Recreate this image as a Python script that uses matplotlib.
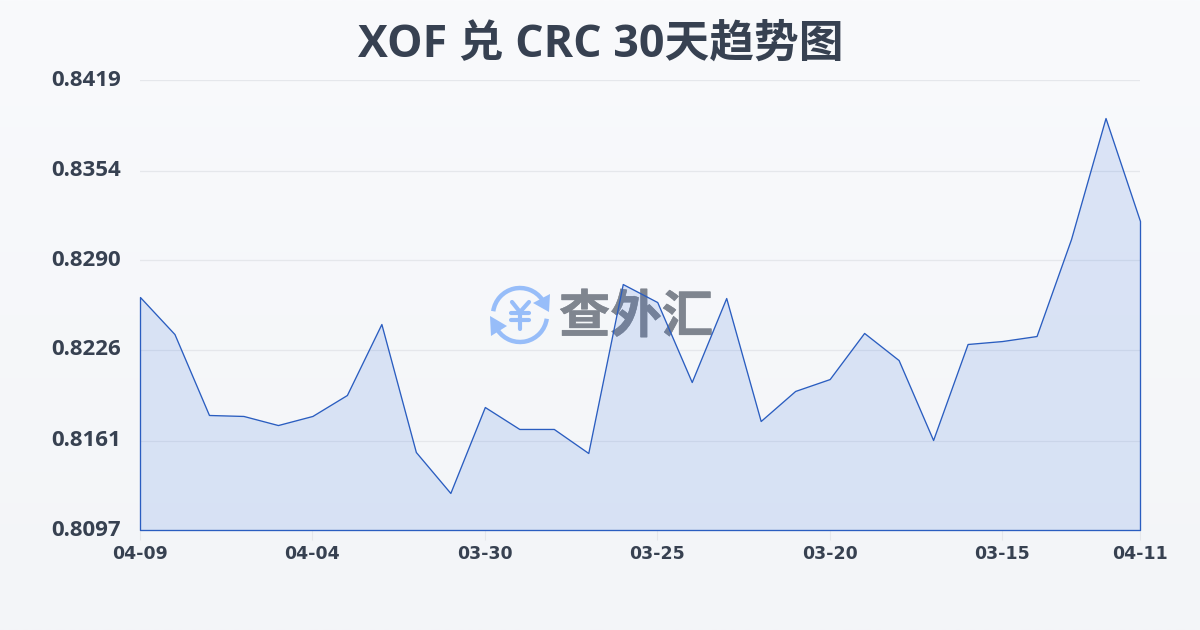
import matplotlib
matplotlib.use('Agg')
import matplotlib.pyplot as plt
import matplotlib.patheffects as pe
from matplotlib.patches import Arc, Polygon
import numpy as np

plt.rcParams['font.family'] = ['Open Sans', 'Noto Sans CJK SC', 'DejaVu Sans']

# Datos
title = 'XOF 兑 CRC 30天趋势图'
rates = [0.82637, 0.82372, 0.81793, 0.81786, 0.81721, 0.81786, 0.81936, 0.82444,
         0.81528, 0.81235, 0.81850, 0.81693, 0.81693, 0.81521, 0.82730, 0.82601,
         0.82029, 0.82630, 0.81750, 0.81965, 0.82050, 0.82380, 0.82186, 0.81614,
         0.82301, 0.82322, 0.82358, 0.83052, 0.83918, 0.83181]
x_ticks = [0, 5, 10, 15, 20, 25, 29]
x_labels = ['04-09', '04-04', '03-30', '03-25', '03-20', '03-15', '04-11']
y_ticks = [0.8097, 0.8161, 0.8226, 0.8290, 0.8354, 0.8419]
y_labels = ['0.8097', '0.8161', '0.8226', '0.8290', '0.8354', '0.8419']

W, H = 1200, 630
text_color = '#374151'
line_color = '#2a5dc0'
grid_color = '#e5e7eb'
icon_color = '#97bdf9'

fig = plt.figure(figsize=(W / 100, H / 100), dpi=100)

# fondo con degradado
bg = fig.add_axes([0, 0, 1, 1], zorder=0)
grad = np.linspace(0, 1, 256).reshape(-1, 1)
cmap = matplotlib.colors.LinearSegmentedColormap.from_list('bg', ['#f9fafc', '#f3f5f8'])
bg.imshow(grad, aspect='auto', cmap=cmap, extent=[0, W, H, 0])
bg.set_xlim(0, W)
bg.set_ylim(H, 0)
bg.axis('off')

# marca de agua
bg.add_patch(Arc((520, 315), 54, 54, theta1=188, theta2=325, color=icon_color, lw=3.2))
bg.add_patch(Arc((520, 315), 54, 54, theta1=8, theta2=145, color=icon_color, lw=3.2))
bg.add_patch(Polygon([(550, 294), (549, 312), (533, 303)], color=icon_color, lw=0))
bg.add_patch(Polygon([(490, 316), (507, 326), (491, 336)], color=icon_color, lw=0))
for xs, ys in [((512, 520, 529), (302, 312, 302)), ((511, 529), (313, 313)),
               ((511, 529), (320, 320)), ((520, 520), (312, 329))]:
    bg.plot(xs, ys, color=icon_color, lw=3, solid_capstyle='round', solid_joinstyle='round')
bg.text(636, 317, '查外汇', fontsize=37, fontweight='bold', color='#7f858f',
        ha='center', va='center', family=['Noto Sans CJK SC'],
        path_effects=[pe.withStroke(linewidth=0.4, foreground='#7f858f')])

bg.text(601, 45, title, fontsize=32.2, fontweight='bold', color=text_color,
        ha='center', va='center')

ax = fig.add_axes([140 / W, 1 - 530 / H, 1000 / W, 450 / H], zorder=1)
ax.patch.set_alpha(0)
x = np.arange(len(rates))
ax.fill_between(x, rates, y_ticks[0], facecolor=(0.21, 0.44, 0.87, 0.15),
                edgecolor=line_color, linewidth=0.95, clip_on=False, zorder=2)
ax.set_xlim(0, 29)
ax.set_ylim(0.8097, 0.8419)
ax.set_yticks(y_ticks)
ax.set_yticklabels(y_labels, fontsize=16, fontweight='bold', color=text_color, va='center')
ax.set_xticks(x_ticks)
ax.set_xticklabels(x_labels, fontsize=12.5, fontweight='bold', color=text_color,
                   family=['DejaVu Sans'])
ax.tick_params(axis='y', length=0, pad=14)
ax.tick_params(axis='x', length=7, width=0.8, color=grid_color, pad=4)
ax.grid(axis='y', color=grid_color, lw=0.9)
ax.set_axisbelow(True)
for s in ax.spines.values():
    s.set_visible(False)

fig.savefig('out.png', dpi=100)
